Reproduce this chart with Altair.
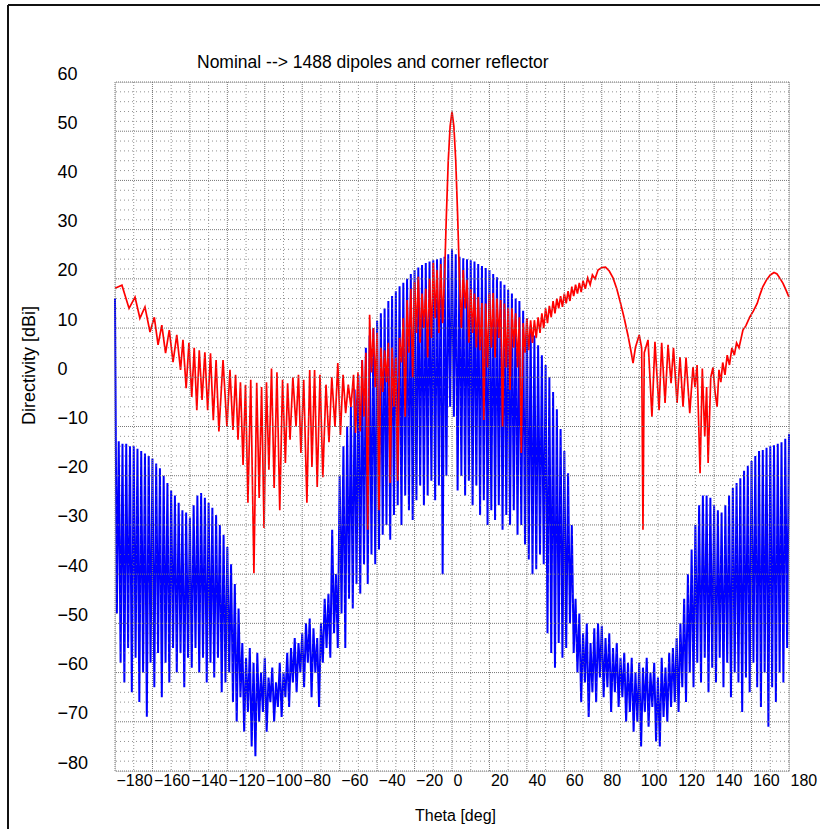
import altair as alt
import pandas as pd

# ---- pattern data (theta in degrees, directivity in dBi) ----
# blue pattern: lobe maxima on even angles, nulls on odd angles
blue_peaks = [
    16, -13, -13.5, -13.5, -14, -14, -14.5, -15, -15.5, -16,          # -180 .. -162
    -16.5, -17.5, -18.5, -20, -21.5, -23, -24, -25.5, -27, -27.5,     # -160 .. -142
    -28.5, -26, -24, -23.5, -24.5, -25.5, -26.5, -28, -30, -32,       # -140 .. -122
    -34.5, -38, -42, -47, -54, -57, -55, -58, -56, -60,               # -120 .. -102
    -57, -61, -59, -62, -58, -60, -56, -55, -53, -54,                 # -100 .. -82
    -52, -50, -49, -51, -53, -50, -45, -44, -31, -40,                 # -80 .. -62
    -20, -14, -10, -6, -2.5, 0.5, 3.5, 6, 8.5, 10,                    # -60 .. -42
    11.5, 13, 14, 15.5, 16.5, 17.5, 18.5, 19.2, 20, 21,               # -40 .. -22
    21.8, 22.3, 22.8, 23.2, 23.5, 23.8, 24, 24.2, 24.5, 25,           # -20 .. -2
    26, 25, 24.5, 24.2, 24, 23.8, 23.5, 23, 22.6, 22.2,               # 0 .. 18
    21.8, 21, 20.3, 19.5, 18.8, 17.8, 17, 16, 15.5, 13.5,             # 20 .. 38
    12, 10.5, 8.5, 6.5, 4.5, 2.5, 0, -3, -6.5, -10.5,                 # 40 .. 58
    -15, -19.5, -30, -45, -48, -52, -50, -54, -51, -50,               # 60 .. 78
    -50.5, -53, -52, -55, -54, -57, -56, -58, -57, -60,               # 80 .. 98
    -58, -59, -57, -60, -58, -61, -57, -59, -56, -55,                 # 100 .. 118
    -53, -50, -45, -40, -35, -30, -26, -24, -24, -24.5,               # 120 .. 138
    -26, -27, -27.5, -26, -24, -22.5, -21.5, -20.5, -19, -18,         # 140 .. 158
    -17, -16, -15, -14.8, -14.3, -14, -13.8, -13.5, -13.2, -12.5,     # 160 .. 178
    -11.5,                                                            # 180
]
blue_nulls = [
    -48, -58, -62, -55, -64, -57, -66, -60, -69, -58,   # -179 .. -161
    -63, -56, -65, -58, -62, -55, -60, -56, -63, -57,   # -159 .. -141
    -59, -55, -60, -57, -62, -58, -61, -57, -64, -62,   # -139 .. -121
    -60, -66, -70, -65, -72, -68, -75, -77, -70, -68,   # -119 .. -101
    -72, -66, -70, -67, -69, -65, -67, -62, -64, -60,   # -99 .. -81
    -63, -58, -65, -60, -67, -58, -55, -57, -52, -55,   # -79 .. -61
    -48, -55, -45, -47, -42, -44, -38, -42, -36, -38,   # -59 .. -41
    -35, -32, -30, -33, -28, -26, -30, -24, -27, -29,   # -39 .. -21
    -25, -22, -26, -24, -21, -25, -22, -40, -20, -6,    # -19 .. -1
    -8, -23, -20, -24, -21, -26, -22, -28, -25, -30,    # 1 .. 19
    -27, -29, -26, -31, -28, -30, -27, -32, -30, -34,   # 21 .. 39
    -37, -40, -39, -36, -38, -52, -56, -59, -54, -57,   # 41 .. 59
    -55, -50, -56, -60, -66, -62, -69, -64, -66, -61,   # 61 .. 79
    -65, -63, -68, -64, -67, -65, -70, -68, -72, -70,   # 81 .. 99
    -75, -68, -71, -67, -74, -75, -69, -70, -67, -66,   # 101 .. 119
    -68, -63, -66, -60, -63, -58, -62, -57, -64, -59,   # 121 .. 139
    -62, -57, -63, -58, -65, -60, -62, -68, -61, -64,   # 141 .. 159
    -58, -63, -67, -60, -71, -63, -66, -60, -62, -55,   # 161 .. 179
]

# red pattern: angle / value pairs
red_theta = [
    -180, -176.3, -172.5, -169.3, -166.7, -164, -161.3, -159, -157, -155,
    -153, -151, -149, -147, -145, -143.7, -142, -140.5, -139, -137.7,
    -136.3, -135, -133.5, -132, -130.5, -129, -127.5, -126, -124.5, -122.3,
    -120.2, -118.6, -117, -115.6, -114.3, -113, -111.6, -110.3, -109, -107.5,
    -105.8, -104.3, -103, -101.7, -100.4, -99.1, -97.8, -96.4, -95, -93.5,
    -92, -90.5, -89, -87.8, -86.5, -85, -83.3, -82, -80.7, -79.2,
    -77.5, -76, -74.8, -73.4, -72, -70.5, -69, -67.3, -65.7, -64.2,
    -62.5, -61, -59.6, -58.2, -56.8, -55.4, -54, -52.6, -51.5, -50.2,
    -49, -48, -47, -46, -45, -44, -43, -42, -41, -40,
    -39, -38, -37, -36, -35, -34, -33, -32, -31, -30,
    -29, -28, -27, -26, -25, -24, -23, -22, -21, -20,
    -19, -18, -17, -16, -15, -14, -13, -12, -11, -10,
    -9, -8, -7, -6, -5, -4, -3, -2, -1, 0,
    1, 2, 3, 4, 5, 6, 7, 8, 9, 10,
    11, 12, 13, 14, 15, 16, 17, 18, 19, 20,
    21, 22, 23, 24, 25, 26, 27, 28, 29, 30,
    31, 32, 33, 34, 35, 36, 37, 38, 39, 40,
    41, 42, 43, 44, 45, 46, 47, 48, 49, 50,
    51, 52, 53, 54, 55, 56, 57, 58, 59, 60,
    61, 62, 63, 64, 65, 66, 67, 68, 69, 70,
    71.2, 72.5, 73.8, 75, 76.4, 78, 80, 82, 84, 86,
    88, 90, 92, 94, 95.5, 96.7, 98, 100, 101.3, 102,
    102.7, 104.7, 106.8, 108.4, 110.6, 112, 113.8, 115.4, 117, 118.3,
    120.2, 121.8, 123.4, 125, 127, 128.7, 129.8, 130.9, 132.5, 133.7,
    135, 136, 136.8, 138.2, 139.4, 140.5, 141.6, 142.6, 143.6, 144.6,
    145.8, 147, 148.2, 149.5, 150.8, 152, 153.3, 155.4, 157, 159,
    161, 163, 164.5, 166, 168, 170, 172, 173.6, 175, 176.8,
    178.3, 180,
]
red_db = [
    18.1, 18.7, 14, 16.3, 12, 14.3, 9.2, 12.2, 6.6, 10.6,
    4.9, 9.6, 3.1, 8.6, 1.5, 7.6, -2.2, 7, -4, 6,
    -6.7, 5.5, -4.6, 5.1, -6.7, 4.9, -8.7, 3.5, -11, 3.5,
    -10.1, 1.5, -10.7, 0.5, -12.7, -1, -17.8, -1.5, -25.5, -0.5,
    -39.8, -1.1, -24.5, -2, -30.6, -1, -18.8, 1.8, -22.5, 1,
    -27, -0.5, -17.4, -1.2, -12.7, 0, -10, 0.5, -15.4, -0.5,
    -25.5, 1.5, -18.2, 1.5, -22.3, 0.5, -20.3, -1.5, -13.2, 0,
    -10.1, 2.9, -11.7, 0.5, -7.3, -1.5, -6, 0.5, -11.3, 1,
    -11, 3.5, -8, 5, -31, 12.7, 1, 10, -2, 9,
    -27, 6, -3, 5.5, -1, 7, -21.5, 6, -6, 4,
    -21, 8, 3, 12, -8, 15.7, 5, 18, 0, 19.4,
    9, 20.4, 7, 17, 10, 18, 4, 20, 8, 23.2,
    12, 21.8, 9, 23, 11, 20, 33, 44, 51, 54,
    51, 44, 33, 20, 10, 21.8, 14, 19.8, 7, 18,
    9, 17, 6, 16.3, 5.5, 15.1, -8.7, 15, 2, 17,
    6, 17.1, 4, 16, 8, 15.7, -10.1, 15, 2, 14.1,
    -2.6, 14, 6, 13, 2, 12.2, -15.4, 11, 5, 12,
    5.5, 11.6, 7, 11.6, 8, 12.2, 9, 13, 10, 14,
    11, 14.5, 12.2, 15.5, 13, 16, 14, 16.5, 14.3, 17,
    15, 17.5, 15.5, 18.4, 16.5, 18.8, 17, 19.2, 17.3, 19.6,
    18, 20.2, 18.8, 20.8, 20, 21.8, 22.3, 22.4, 21.6, 20.2,
    18, 15.1, 12, 8.5, 5.5, 2.9, 6.1, 8.6, 6, -31,
    5, 7.6, -8, 7.2, -6.7, 7, -5.2, 6.6, -1.2, 6,
    -5.2, 4.1, -6, 4, -7.3, 2.1, -2, 2.5, -19.5, 1.8,
    -12, -2, -17.4, 0, 2, -3, -6, 1.5, -1, 3,
    0.5, 4.5, 2.5, 6, 4.5, 7, 6, 9.6, 10.5, 12.2,
    13.5, 15, 16.8, 18.4, 19.8, 20.8, 21.3, 21, 20.2, 19.1,
    17.8, 16.3,
]

# gridline positions
y_ticks = list(range(-80, 61, 10))
y_minor = [v for v in range(-78, 60, 2) if v % 10]
x_ticks = list(range(-180, 181, 20))
x_mid = list(range(-170, 171, 20))

# ---- tables ----
blue_theta, blue_db = [], []
for i in range(len(blue_peaks)):
    blue_theta.append(-180 + 2 * i)
    blue_db.append(blue_peaks[i])
    if i < len(blue_nulls):
        blue_theta.append(-179 + 2 * i)
        blue_db.append(blue_nulls[i])
blue_df = pd.DataFrame({"theta": blue_theta, "db": blue_db})
red_df = pd.DataFrame({"theta": red_theta, "db": red_db})

FONT = "Liberation Sans"
xs = alt.Scale(domain=[-180, 180], nice=False, zero=False)
ys = alt.Scale(domain=[-80, 60], nice=False, zero=False)

x_axis = alt.Axis(
    values=x_ticks, grid=False, domain=False, ticks=False, tickSize=0,
    labelAlign="left", labelBaseline="top", labelPadding=1, labelOffset=1,
    labelFlush=False, labelOverlap=False, labelBound=False,
    labelFont=FONT, labelFontSize=16, labelColor="#000",
    title="Theta [deg]", titleFont=FONT, titleFontSize=16, titleFontWeight="normal",
    titleColor="#000", titleX=340, titleY=44, titleAlign="center", titleBaseline="middle",
)
y_axis = alt.Axis(
    values=y_ticks, grid=False, domain=False, ticks=False, tickSize=0,
    labelAlign="left", labelBaseline="bottom", labelPadding=58, labelOffset=1,
    labelFlush=False, labelOverlap=False, labelBound=False,
    labelFont=FONT, labelFontSize=18, labelColor="#000",
    title="Directivity [dBi]", titleFont=FONT, titleFontSize=18, titleFontWeight="normal",
    titleColor="#000", titleX=-86, titleY=283, titleAngle=-90,
    titleAlign="center", titleBaseline="middle",
)
X = alt.X("theta:Q", scale=xs, axis=x_axis)
Y = alt.Y("db:Q", scale=ys, axis=y_axis)

blue = alt.Chart(blue_df).mark_line(color="#0000ff", strokeWidth=2).encode(x=X, y=Y)
red = alt.Chart(red_df).mark_line(color="#ff0000", strokeWidth=1.7).encode(x=X, y=Y)

# dotted grid drawn over the curves
grid_color = "#777777"
hmajor = alt.Chart(pd.DataFrame({"db": y_ticks})).mark_rule(
    color=grid_color, strokeWidth=1, strokeDash=[1, 1]
).encode(y=Y)
hminor = alt.Chart(pd.DataFrame({"db": y_minor})).mark_rule(
    color=grid_color, strokeWidth=1, strokeDash=[1, 3], opacity=0.8
).encode(y=Y)
vmajor = alt.Chart(pd.DataFrame({"theta": x_ticks})).mark_rule(
    color=grid_color, strokeWidth=1, strokeDash=[1, 1]
).encode(x=X)
vmid = alt.Chart(pd.DataFrame({"theta": x_mid})).mark_rule(
    color=grid_color, strokeWidth=1, strokeDash=[1, 2], opacity=0.8
).encode(x=X)

# outer picture frame (left and top edges)
one = pd.DataFrame({"k": [0]})
frame_left = alt.Chart(one).mark_rule(color="#111", strokeWidth=2).encode(
    x=alt.value(-107), y=alt.value(-77), y2=alt.value(760)
)
frame_top = alt.Chart(one).mark_rule(color="#111", strokeWidth=2).encode(
    x=alt.value(-107), x2=alt.value(720), y=alt.value(-77)
)

chart = alt.layer(
    blue, red, hminor, vmid, hmajor, vmajor, frame_left, frame_top
).properties(
    width=674,
    height=689,
    title=alt.TitleParams(
        text="Nominal --> 1488 dipoles and corner reflector",
        anchor="start", frame="group", dx=82, dy=85, offset=0, baseline="bottom",
        font=FONT, fontSize=17.5, fontWeight="normal", color="#000",
    ),
    padding={"left": 115, "top": 82, "right": 31, "bottom": 58},
    autosize=alt.AutoSizeParams(type="none"),
).configure_view(stroke="#111", strokeWidth=2).configure(background="white")

chart.save("out.html", embed_options={"renderer": "svg", "actions": False})
